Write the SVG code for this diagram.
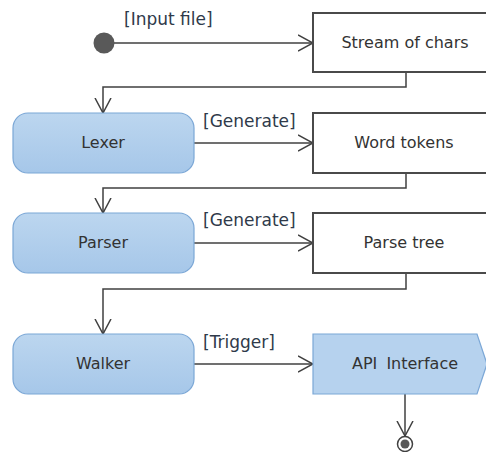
<svg xmlns="http://www.w3.org/2000/svg" width="486" height="452" viewBox="0 0 486 452">
  <defs>
    <linearGradient id="actFill" x1="0" y1="0" x2="0" y2="1">
      <stop offset="0" stop-color="#bcd6ef"/>
      <stop offset="1" stop-color="#a6c7e9"/>
    </linearGradient>
    <marker id="open" viewBox="0 0 16 18" refX="15" refY="9" markerWidth="16" markerHeight="18" markerUnits="userSpaceOnUse" orient="auto">
      <path d="M0,1 L15,9 L0,17" fill="none" stroke="#404040" stroke-width="1.5"/>
    </marker>
  </defs>
  <style>
    .obj { fill: #ffffff; stroke: #4a4a4a; stroke-width: 2; }
    .act { fill: url(#actFill); stroke: #7ba7d6; stroke-width: 1.2; }
    .sig { fill: #b6d2ee; stroke: #7ba7d6; stroke-width: 1.2; }
    .txt { font-family: "DejaVu Sans", "Open Sans", sans-serif; font-size: 16px; fill: #333333; text-anchor: middle; }
    .lbl { font-family: "DejaVu Sans", "Open Sans", sans-serif; font-size: 17px; fill: #2f3a4a; }
    .flow { fill: none; stroke: #404040; stroke-width: 1.5; marker-end: url(#open); }
  </style>

  <!-- connectors -->
  <g id="connectors">
    <path class="flow" d="M114,43 H313"/>
    <path class="flow" d="M406,72 V87 H103 V113"/>
    <path class="flow" d="M194,143 H313"/>
    <path class="flow" d="M406,173 V188 H103 V213"/>
    <path class="flow" d="M194,243 H313"/>
    <path class="flow" d="M406,273 V289 H103 V334"/>
    <path class="flow" d="M194,364 H313"/>
    <path class="flow" d="M405,394 V436"/>
    <text class="lbl" x="124" y="25">[Input file]</text>
    <text class="lbl" x="203" y="127">[Generate]</text>
    <text class="lbl" x="203" y="226">[Generate]</text>
    <text class="lbl" x="203" y="348">[Trigger]</text>
  </g>

  <!-- start node -->
  <g id="start">
    <circle cx="104" cy="43" r="10.5" fill="#595959"/>
  </g>

  <!-- object nodes -->
  <g id="stream">
    <rect class="obj" x="313" y="13" width="185" height="59"/>
    <text class="txt" x="405" y="48">Stream of chars</text>
  </g>
  <g id="wordtokens">
    <rect class="obj" x="313" y="113" width="185" height="60"/>
    <text class="txt" x="404" y="148">Word tokens</text>
  </g>
  <g id="parsetree">
    <rect class="obj" x="313" y="213" width="185" height="60"/>
    <text class="txt" x="404" y="248">Parse tree</text>
  </g>

  <!-- actions -->
  <g id="lexer">
    <rect class="act" x="13" y="113" width="181" height="60" rx="15"/>
    <text class="txt" x="103" y="148">Lexer</text>
  </g>
  <g id="parser">
    <rect class="act" x="13" y="213" width="181" height="60" rx="15"/>
    <text class="txt" x="103" y="248">Parser</text>
  </g>
  <g id="walker">
    <rect class="act" x="13" y="334" width="181" height="60" rx="15"/>
    <text class="txt" x="103" y="369">Walker</text>
  </g>

  <!-- send signal -->
  <g id="api">
    <polygon class="sig" points="313,334 477,334 487,364 477,394 313,394"/>
    <text class="txt" x="405" y="369" word-spacing="4">API Interface</text>
  </g>

  <!-- final node -->
  <g id="final">
    <circle cx="405" cy="444" r="7.5" fill="#ffffff" stroke="#404040" stroke-width="1.5"/>
    <circle cx="405" cy="444" r="4.5" fill="#595959"/>
  </g>
</svg>
